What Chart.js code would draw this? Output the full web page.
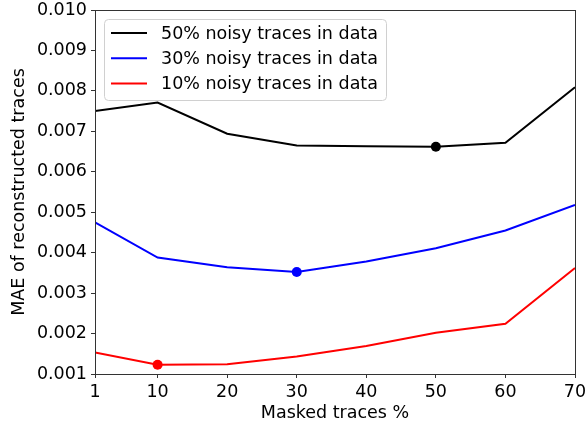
<!DOCTYPE html>
<html>
<head>
<meta charset="utf-8">
<script src="https://cdn.jsdelivr.net/npm/chart.js@4/dist/chart.umd.min.js"></script>
<style>
  body { margin: 0; background: #fff; }
  canvas { display: block; }
</style>
</head>
<body>
<canvas id="chart" width="586" height="426"></canvas>
<script>
// masked traces % (x positions)
const maskedPct = [1, 10, 20, 30, 40, 50, 60, 70];
const xTicks = [1, 10, 20, 30, 40, 50, 60, 70];

// MAE values
const noisy50 = [0.00750, 0.00771, 0.00694, 0.00665, 0.00663, 0.00662, 0.00672, 0.00809];
const noisy30 = [0.00475, 0.00388, 0.00364, 0.00352, 0.00378, 0.00411, 0.00455, 0.00518];
const noisy10 = [0.00153, 0.00123, 0.00124, 0.00143, 0.00169, 0.00202, 0.00224, 0.00362];

const seriesLabels = ['50% noisy traces in data', '30% noisy traces in data', '10% noisy traces in data'];
const seriesColors = ['#000000', '#0000ff', '#ff0000'];

const FONT = 'DejaVu Sans';
const FS = 17.5;

function makeSet(values, i) {
  const minVal = Math.min(...values);
  return {
    label: seriesLabels[i],
    data: maskedPct.map((x, k) => ({ x: x, y: values[k] })),
    borderColor: seriesColors[i],
    backgroundColor: seriesColors[i],
    borderWidth: 2,
    tension: 0,
    // only the minimum of each curve gets a dot
    pointRadius: ctx => (values[ctx.dataIndex] === minVal ? 5 : 0),
    pointBorderWidth: 0,
    pointHoverRadius: 0
  };
}

// box around the plot + legend inside the axes, matplotlib style
const framePlugin = {
  id: 'frame',
  afterDraw(chart) {
    const c = chart.ctx;
    const a = chart.chartArea;
    c.save();
    c.strokeStyle = '#333';
    c.lineWidth = 1;
    c.strokeRect(a.left + 0.5, a.top + 0.5, a.right - a.left, a.bottom - a.top);

    // legend
    const x0 = a.left + 9, y0 = a.top + 9, w = 282, h = 81, r = 4;
    c.fillStyle = 'rgba(255,255,255,0.8)';
    c.strokeStyle = '#d0d0d0';
    c.beginPath();
    c.roundRect(x0 + 0.5, y0 + 0.5, w, h, r);
    c.fill();
    c.stroke();
    c.font = FS + 'px "' + FONT + '"';
    c.textBaseline = 'middle';
    chart.data.datasets.forEach((ds, i) => {
      const yy = y0 + 14 + i * 25.3;
      c.strokeStyle = ds.borderColor;
      c.lineWidth = 2;
      c.beginPath();
      c.moveTo(x0 + 7, yy);
      c.lineTo(x0 + 43, yy);
      c.stroke();
      c.fillStyle = '#000';
      c.fillText(ds.label, x0 + 57, yy + 1);
    });
    c.restore();
  }
};

new Chart(document.getElementById('chart'), {
  type: 'line',
  data: {
    datasets: [makeSet(noisy50, 0), makeSet(noisy30, 1), makeSet(noisy10, 2)]
  },
  options: {
    responsive: false,
    animation: false,
    layout: { padding: { top: 10, right: 11, left: 0, bottom: 0 } },
    plugins: { legend: { display: false }, tooltip: { enabled: false } },
    scales: {
      x: {
        type: 'linear',
        min: 1,
        max: 70,
        afterBuildTicks: axis => { axis.ticks = xTicks.map(v => ({ value: v })); },
        afterFit: axis => { axis.height = 52; axis.paddingLeft = 0; axis.paddingRight = 0; },
        grid: { drawOnChartArea: false, drawTicks: true, tickLength: 4, color: '#333' },
        border: { color: '#333' },
        ticks: { color: '#000', padding: 4, font: { family: FONT, size: FS }, maxRotation: 0 },
        title: { display: true, text: 'Masked traces %', color: '#000', font: { family: FONT, size: FS }, padding: { top: 0, bottom: 2 } }
      },
      y: {
        min: 0.001,
        max: 0.010,
        afterFit: axis => { axis.width = 95; axis.paddingTop = 0; axis.paddingBottom = 0; },
        grid: { drawOnChartArea: false, drawTicks: true, tickLength: 4, color: '#333' },
        border: { color: '#333' },
        ticks: {
          stepSize: 0.001,
          color: '#000',
          padding: 4,
          font: { family: FONT, size: FS },
          callback: v => v.toFixed(3)
        },
        title: { display: true, text: 'MAE of reconstructed traces', color: '#000', font: { family: FONT, size: FS }, padding: { top: 9, bottom: 0 } }
      }
    }
  },
  plugins: [framePlugin]
});
</script>
</body>
</html>
